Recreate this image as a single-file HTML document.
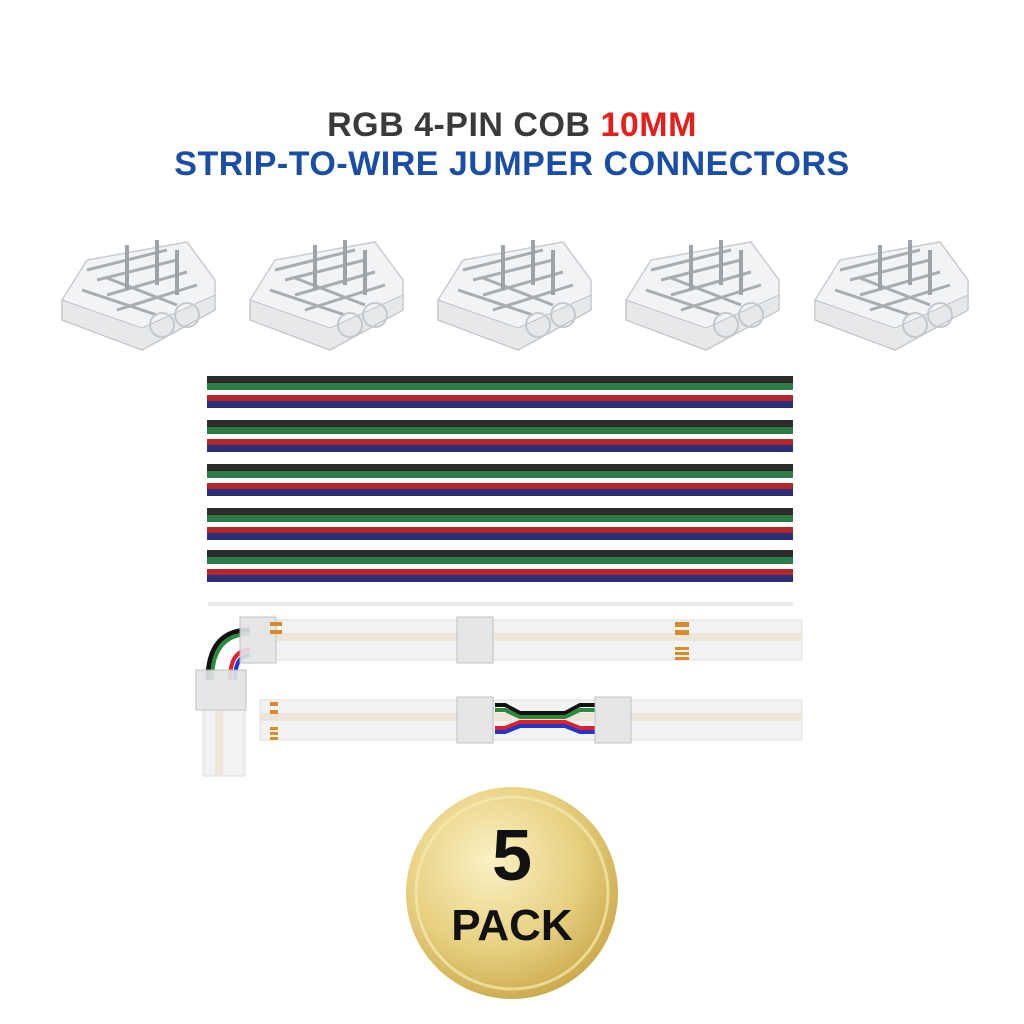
<!DOCTYPE html>
<html><head><meta charset="utf-8"><style>
body{margin:0;width:1024px;height:1024px;background:#fff;position:relative;overflow:hidden;font-family:"Liberation Sans",sans-serif}
.t{position:absolute;left:0;width:1024px;text-align:center;font-weight:bold;font-size:34px;letter-spacing:0.5px}
</style></head><body>
<div class="t" style="top:106px;color:#3a3a3a">RGB 4-PIN COB <span style="color:#e3201b">10MM</span></div>
<div class="t" style="top:145px;color:#1a4ea6">STRIP-TO-WIRE JUMPER CONNECTORS</div>
<svg width="1024" height="1024" style="position:absolute;left:0;top:0">
<defs>
<g id="conn">
<polygon points="-75,50 -50,10 50,-8 78,30 78,60 5,100 -75,70" fill="#f2f3f5" stroke="#c9ccd0" stroke-width="1.5"/>
<polygon points="-75,50 5,78 78,45 78,60 5,100 -75,70" fill="#e6e8ea" stroke="#bfc2c6"/>
<path d="M-50,20 L30,0 M-40,30 L40,10 M-30,45 L50,22 M-20,60 L60,35 M-55,40 L20,65 M-30,28 L40,55" stroke="#a9adb2" stroke-width="3" fill="none"/>
<path d="M-10,-5 L-10,40 M20,-10 L20,35 M40,0 L40,45" stroke="#9ea3a8" stroke-width="4"/>
<circle cx="25" cy="75" r="12" fill="none" stroke="#c5c8cc" stroke-width="2"/>
<circle cx="50" cy="65" r="12" fill="none" stroke="#c5c8cc" stroke-width="2"/>
</g>
<radialGradient id="gold" cx="40%" cy="35%" r="70%">
<stop offset="0" stop-color="#fbf1c4"/><stop offset="0.6" stop-color="#e6cf7f"/><stop offset="1" stop-color="#c9a64a"/>
</radialGradient>
</defs>
<use href="#conn" x="137" y="250"/>
<use href="#conn" x="325" y="250"/>
<use href="#conn" x="513" y="250"/>
<use href="#conn" x="701" y="250"/>
<use href="#conn" x="890" y="250"/>
<g id="wp">
<rect x="207" y="376" width="586" height="7" fill="#2a2a2a"/>
<rect x="207" y="383" width="586" height="7" fill="#2d7a46"/>
<rect x="207" y="395" width="586" height="6" fill="#b3262c"/>
<rect x="207" y="401" width="586" height="7" fill="#2c2f78"/>
</g>
<use href="#wp" y="44"/><use href="#wp" y="88"/><use href="#wp" y="132"/><use href="#wp" y="174"/>
<rect x="208" y="602" width="585" height="4" fill="#e8eaec"/>
<!-- strips -->
<rect x="240" y="620" width="562" height="40" fill="#f2f2f2" stroke="#ddd"/>
<rect x="240" y="633" width="562" height="8" fill="#ece6da"/>
<rect x="203" y="670" width="42" height="106" fill="#f2f2f2" stroke="#ddd"/>
<rect x="215" y="670" width="8" height="106" fill="#ece6da"/>
<rect x="260" y="700" width="542" height="40" fill="#f2f2f2" stroke="#ddd"/>
<rect x="260" y="713" width="542" height="8" fill="#ece6da"/>
<path d="M250,630 Q208,630 208,680" stroke="#111" stroke-width="5" fill="none"/>
<path d="M250,634 Q212,634 212,680" stroke="#2c8a40" stroke-width="4" fill="none"/>
<path d="M250,650 Q230,650 230,680" stroke="#e0202a" stroke-width="4" fill="none"/>
<path d="M250,655 Q235,655 235,680" stroke="#2236c8" stroke-width="4" fill="none"/>
<path d="M495,705 L505,705 L520,713 L565,713 L580,705 L595,705" stroke="#111" stroke-width="4" fill="none"/>
<path d="M495,710 L505,710 L520,717 L565,717 L580,710 L595,710" stroke="#2c8a40" stroke-width="4" fill="none"/>
<path d="M495,728 L505,728 L520,722 L565,722 L580,728 L595,728" stroke="#e0202a" stroke-width="4" fill="none"/>
<path d="M495,732 L505,732 L520,726 L565,726 L580,732 L595,732" stroke="#2236c8" stroke-width="4" fill="none"/>
<g fill="#e3e5e8" stroke="#bbb" opacity="0.9">
<rect x="240" y="617" width="36" height="46"/><rect x="457" y="617" width="36" height="46"/>
<rect x="196" y="670" width="50" height="40"/>
<rect x="457" y="697" width="36" height="46"/><rect x="595" y="697" width="36" height="46"/>
</g>
<g fill="#d98b2a">
<rect x="270" y="622" width="12" height="4"/><rect x="270" y="630" width="12" height="4"/>
<rect x="675" y="622" width="14" height="5"/><rect x="675" y="630" width="14" height="5"/>
<rect x="675" y="647" width="14" height="3"/><rect x="675" y="652" width="14" height="3"/><rect x="675" y="657" width="14" height="3"/>
<rect x="270" y="702" width="8" height="4"/><rect x="270" y="710" width="8" height="4"/>
<rect x="270" y="727" width="8" height="3"/><rect x="270" y="732" width="8" height="3"/><rect x="270" y="737" width="8" height="3"/>
</g>
<circle cx="512" cy="893" r="106" fill="url(#gold)"/>
<circle cx="512" cy="893" r="96" fill="none" stroke="#f6e9b0" stroke-width="3" opacity="0.7"/>
<text x="512" y="880" text-anchor="middle" font-family="Liberation Sans" font-weight="bold" font-size="72" fill="#111">5</text>
<text x="512" y="940" text-anchor="middle" font-family="Liberation Sans" font-weight="bold" font-size="44" fill="#111">PACK</text>
</svg>
</body></html>
